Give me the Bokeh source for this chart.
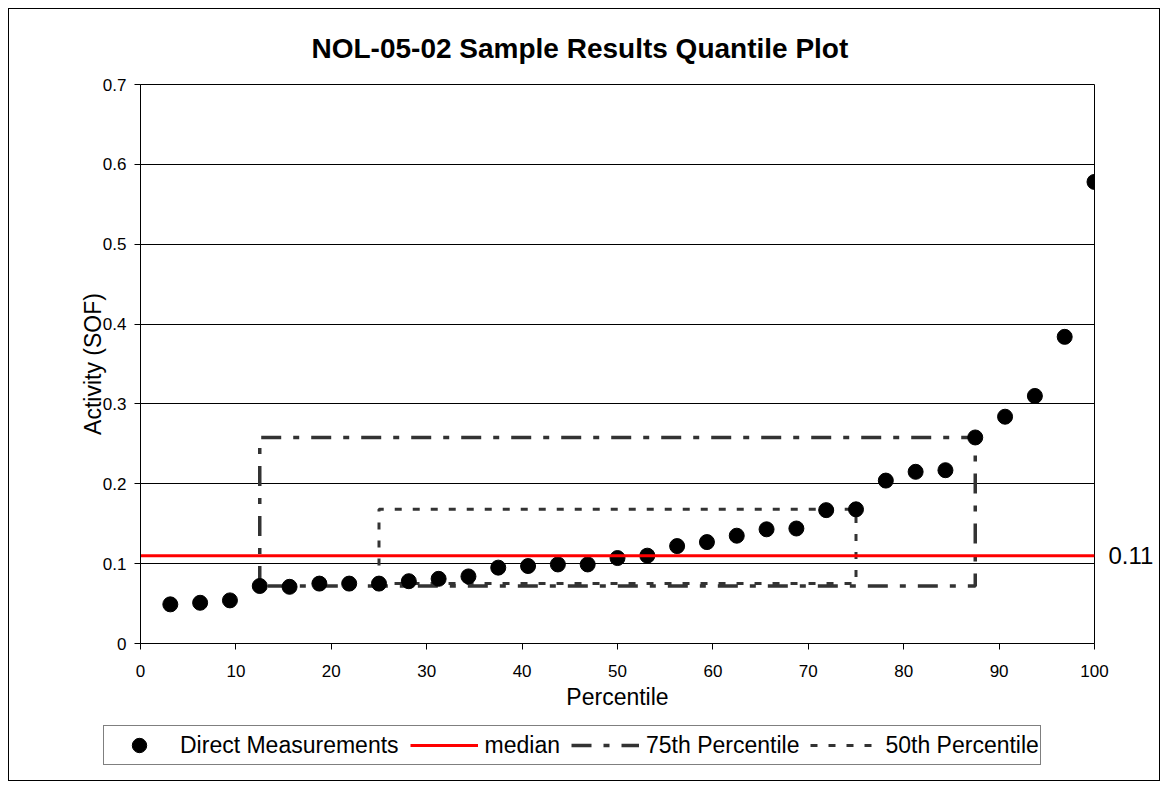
from bokeh.plotting import figure
from bokeh.models import (ColumnDataSource, Legend, LegendItem, FixedTicker,
                          NumeralTickFormatter, Range1d, LinearAxis)
from bokeh.layouts import column, row
from bokeh.embed import file_html
from bokeh.resources import INLINE

# ---------------- data ----------------
title_text = "NOL-05-02 Sample Results Quantile Plot"
x_title = "Percentile"
y_title = "Activity (SOF)"

percentile = [3.125, 6.25, 9.375, 12.5, 15.625, 18.75, 21.875, 25.0,
              28.125, 31.25, 34.375, 37.5, 40.625, 43.75, 46.875, 50.0,
              53.125, 56.25, 59.375, 62.5, 65.625, 68.75, 71.875, 75.0,
              78.125, 81.25, 84.375, 87.5, 90.625, 93.75, 96.875, 100.0]
activity = [0.049, 0.051, 0.054, 0.072, 0.071, 0.075, 0.075, 0.075,
            0.078, 0.081, 0.084, 0.095, 0.097, 0.099, 0.099, 0.107,
            0.110, 0.122, 0.127, 0.135, 0.143, 0.144, 0.167, 0.168,
            0.204, 0.215, 0.217, 0.258, 0.284, 0.310, 0.384, 0.578]

median_x = [0, 100]
median_y = [0.11, 0.11]

p75_x = [12.5, 12.5, 87.5, 87.5, 12.5]
p75_y = [0.072, 0.258, 0.258, 0.072, 0.072]
p50_x = [25.0, 25.0, 75.0, 75.0, 25.0]
p50_y = [0.075, 0.168, 0.168, 0.075, 0.075]

x_ticks = [0, 10, 20, 30, 40, 50, 60, 70, 80, 90, 100]
y_ticks = [0, 0.1, 0.2, 0.3, 0.4, 0.5, 0.6, 0.7]

series_names = ["Direct Measurements", "median", "75th Percentile", "50th Percentile"]

FONT = "Liberation Sans"
BOX_COLOR = "#333333"
MED_COLOR = "#ff0000"
DASH75 = "20 12 6 12"
DASH50 = "7 11"

# ---------------- main chart ----------------
p = figure(width=1150, height=712, output_backend="svg", toolbar_location=None,
           x_range=Range1d(0, 100), y_range=Range1d(0, 0.7),
           min_border_left=131, min_border_right=65,
           min_border_top=75, min_border_bottom=78,
           background_fill_color="white", border_fill_color="white")

p.outline_line_color = "black"
p.outline_line_width = 1

r75 = p.line(p75_x, p75_y, line_color=BOX_COLOR, line_width=3.5, line_dash=DASH75)
r50 = p.line(p50_x, p50_y, line_color=BOX_COLOR, line_width=3, line_dash=DASH50)

src = ColumnDataSource(dict(x=percentile, y=activity))
rpts = p.scatter("x", "y", source=src, size=15, marker="circle",
                 fill_color="black", line_color="black")

rmed = p.line(median_x, median_y, line_color=MED_COLOR, line_width=3)

# value of the median written at the right of the plot (axis with one tick)
med_axis = LinearAxis(ticker=FixedTicker(ticks=[median_y[0]]),
                      formatter=NumeralTickFormatter(format="0.00"),
                      axis_line_color=None, major_tick_line_color=None,
                      minor_tick_line_color=None, major_tick_in=0, major_tick_out=0,
                      major_label_standoff=14, major_label_text_font=FONT,
                      major_label_text_font_size="24px", major_label_text_color="black")
p.add_layout(med_axis, "right")

p.title.text = title_text
p.title.align = "left"
p.title.offset = 171
p.title.standoff = 42
p.title.text_font = FONT
p.title.text_font_size = "28px"
p.title.text_font_style = "bold"
p.title.text_color = "black"

p.xaxis[0].ticker = FixedTicker(ticks=x_ticks)
p.yaxis[0].ticker = FixedTicker(ticks=y_ticks)
p.yaxis[0].formatter = NumeralTickFormatter(format="0.[0]")
p.xaxis[0].axis_label = x_title
p.yaxis[0].axis_label = y_title
for ax in (p.xaxis[0], p.yaxis[0]):
    ax.axis_line_color = "black"
    ax.major_tick_line_color = "black"
    ax.major_tick_in = 0
    ax.major_tick_out = 6
    ax.minor_tick_line_color = None
    ax.major_label_text_font = FONT
    ax.major_label_text_font_size = "17px"
    ax.major_label_text_color = "black"
    ax.axis_label_text_font = FONT
    ax.axis_label_text_font_size = "23px"
    ax.axis_label_text_font_style = "normal"
    ax.axis_label_text_color = "black"
p.xaxis[0].major_label_standoff = 15
p.xaxis[0].axis_label_standoff = 4
p.yaxis[0].major_label_standoff = 8
p.yaxis[0].axis_label_standoff = -6

p.xgrid.visible = False
p.ygrid.ticker = FixedTicker(ticks=y_ticks)
p.ygrid.grid_line_color = "black"
p.ygrid.grid_line_width = 1

# ---------------- legend strip ----------------
# The series are repeated here only as legend keys; the strip's ranges keep
# them out of view, so only the legend itself is visible.
lg = figure(width=1150, height=59, output_backend="svg", toolbar_location=None,
            x_range=Range1d(200, 300), y_range=Range1d(2, 3),
            x_axis_location=None, y_axis_location=None,
            min_border=0, min_border_left=0, min_border_right=0,
            min_border_top=0, min_border_bottom=0,
            outline_line_color=None, background_fill_color="white",
            border_fill_color="white")
lg.grid.visible = False
g_pts = lg.scatter(percentile, activity, marker="circle", size=15,
                   fill_color="black", line_color="black")
g_med = lg.line(median_x, median_y, line_color=MED_COLOR, line_width=3)
g_75 = lg.line(p75_x, p75_y, line_color=BOX_COLOR, line_width=3.5, line_dash=DASH75)
g_50 = lg.line(p50_x, p50_y, line_color=BOX_COLOR, line_width=3, line_dash=DASH50)

legend = Legend(items=[LegendItem(label=series_names[0], renderers=[g_pts]),
                       LegendItem(label=series_names[1], renderers=[g_med]),
                       LegendItem(label=series_names[2], renderers=[g_75]),
                       LegendItem(label=series_names[3], renderers=[g_50])],
                orientation="horizontal", location=(94, 15), margin=0,
                padding=1, spacing=11, label_standoff=7,
                glyph_width=68, glyph_height=36,
                label_text_font=FONT, label_text_font_size="23px",
                label_text_color="black",
                border_line_color="black", border_line_width=1,
                background_fill_color="white", background_fill_alpha=1)
lg.add_layout(legend, "center")

layout = column(p, row(lg), spacing=0,
                styles={"border": "1px solid black", "margin": "8px 0 0 8px"})

open("out.html", "w").write(file_html(layout, INLINE))
